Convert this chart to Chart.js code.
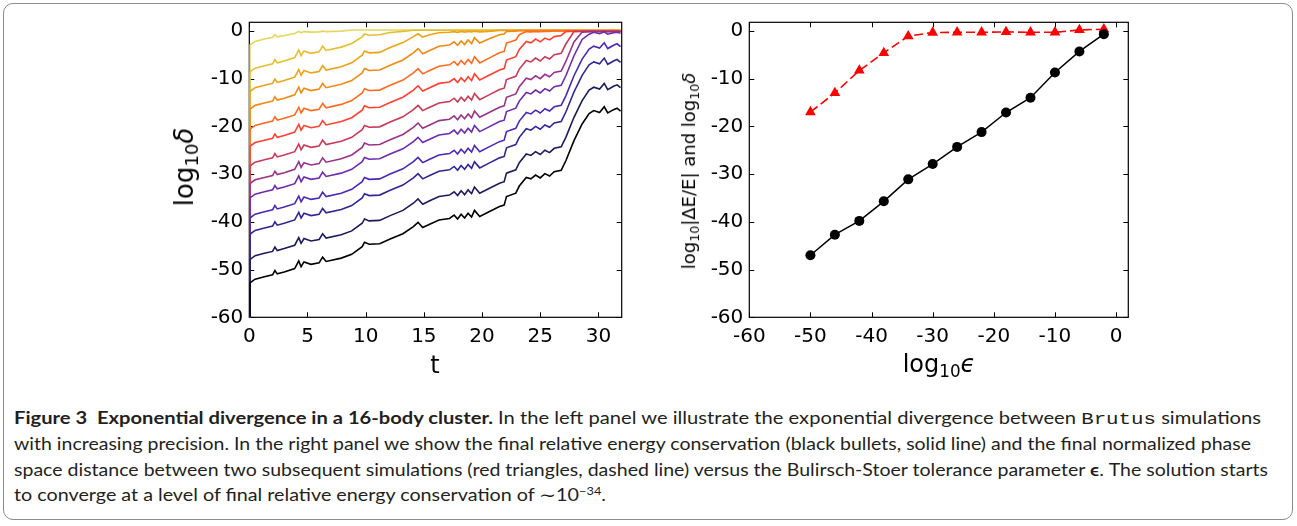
<!DOCTYPE html>
<html><head><meta charset="utf-8">
<script src="https://cdn.jsdelivr.net/npm/chart.js@4"></script>
<style>
html,body{margin:0;padding:0;background:#fff;}
#wrap{position:relative;width:1297px;height:526px;overflow:hidden;background:#fff;}
#box{position:absolute;left:3px;top:3px;width:1288px;height:515px;border:1px solid #8c8c8c;border-radius:10px;}
canvas{position:absolute;top:0;}
.lbl{position:absolute;font-family:"DejaVu Sans";color:#000;white-space:nowrap;line-height:1;transform:translate(-50%,-50%);}
.rot{transform:translate(-50%,-50%) rotate(-90deg);}
.sub{font-size:70%;position:relative;top:0.28em;}
.it{font-style:italic;}
.cap{position:absolute;left:14px;font-family:Lato;font-size:16.5px;color:#231f20;white-space:nowrap;transform-origin:0 50%;line-height:20px;}
.mono{font-family:"Liberation Mono";font-size:17px;}
sup{font-size:65%;vertical-align:0;position:relative;top:-0.6em;}
</style></head>
<body>
<div id="wrap">
<div id="box"></div>
<canvas id="left" width="500" height="400" style="left:150px"></canvas>
<canvas id="right" width="500" height="400" style="left:650px"></canvas>
<div class="lbl rot" style="left:184px;top:167px;font-size:26px">log<span class="sub">10</span><span class="it">δ</span></div>
<div class="lbl" style="left:435px;top:365px;font-size:24px">t</div>
<div class="lbl rot" style="left:689px;top:171px;font-size:18px">log<span class="sub">10</span>|ΔE/E| and log<span class="sub">10</span><span class="it">δ</span></div>
<div class="lbl" style="left:939px;top:364px;font-size:24px">log<span class="sub">10</span><span class="it">ϵ</span></div>
<div class="cap" data-w="1247" style="top:408px"><b>Figure 3&nbsp;&nbsp;Exponential divergence in a 16-body cluster.</b> In the left panel we illustrate the exponential divergence between <span class="mono">Brutus</span> simulations</div>
<div class="cap" data-w="1237" style="top:434px">with increasing precision. In the right panel we show the final relative energy conservation (black bullets, solid line) and the final normalized phase</div>
<div class="cap" data-w="1254" style="top:460px">space distance between two subsequent simulations (red triangles, dashed line) versus the Bulirsch-Stoer tolerance parameter <b>ϵ</b>. The solution starts</div>
<div class="cap" data-w="592" style="top:485px">to converge at a level of final relative energy conservation of ∼10<sup>−34</sup>.</div>
</div>
<script>
// ---------- Left panel: log10(delta) vs t ----------
const tTimes = [0,0.05,0.5,1.3,2.0,2.2,2.4,3.0,3.9,4.25,4.45,4.7,5.3,6.0,6.3,6.6,7.9,8.8,9.7,9.9,10.3,11.2,12.1,13.2,14.1,14.5,14.9,15.5,16.3,17.2,17.6,17.9,18.2,18.5,18.8,19.1,19.35,19.8,20.6,21.5,21.9,22.1,22.9,23.2,23.8,24.2,24.6,25.0,25.4,25.8,26.2,26.8,27.2,27.9,28.6,29.2,29.6,30.1,30.5,30.8,31.3,31.6,31.9];

const run01 = [-60,-2.95,-2.2,-1.7,-1.4,-0.8,-1.25,-0.95,-0.55,-0.1,-0.4,-0.15,-0.25,-0.2,-0.05,-0.15,-0.05,
 0.2,0.2,0.2,0.2,0.2,0.2,0.2,0.2,0.2,0.2, 0.2,0.2,0.2,0.2,0.2,0.2,0.2,0.2,0.2,0.2, 0.2,0.2,0.2,0.2,0.2,0.2,0.2,0.2,0.2,0.2, 0.2,0.2,0.2,0.2,0.2,0.2,0.2,0.2,0.2,0.2, 0.2,0.2,0.2,0.2,0.2,0.2];
const run02 = [-60,-8.6,-7.8,-7.3,-6.9,-6.0,-6.7,-6.3,-5.6,-4.0,-5.2,-4.2,-4.7,-4.4,-3.2,-4.1,-3.4,-2.65,-1.25,-0.65,-0.9,-0.8,-0.35,-0.1,
 0.15,0.15,0.15,0.15,0.15,0.15,0.15,0.15,0.15,0.15, 0.15,0.15,0.15,0.15,0.15,0.15,0.15,0.15,0.15,0.15, 0.15,0.15,0.15,0.15,0.15,0.15,0.15,0.15,0.15,0.15, 0.15,0.15,0.15,0.15,0.15,0.15,0.15,0.15,0.15];
const run03 = [-60,-12.7,-11.9,-11.4,-11.0,-10.1,-10.8,-10.4,-9.7,-8.1,-9.3,-8.3,-8.8,-8.5,-7.3,-8.2,-7.5,-6.7,-5.1,-4.2,-4.6,-4.5,-3.5,-2.45,-1.2,-0.6,-1.3,-0.8,-0.4,-0.3,-0.15,-0.3,-0.1,-0.25,-0.1,-0.2,-0.05,-0.2,-0.1,
 0.1,0.1,0.1,0.1,0.1,0.1,0.1,0.1,0.1,0.1, 0.1,0.1,0.1,0.1,0.1,0.1,0.1,0.1,0.1,0.1, 0.1,0.1,0.1,0.1];
const run04 = [-60,-16.4,-15.6,-15.1,-14.7,-13.8,-14.5,-14.1,-13.4,-11.8,-13.0,-12.0,-12.5,-12.2,-11.0,-11.9,-11.2,-10.4,-8.8,-7.9,-8.3,-8.2,-7.2,-6.1,-4.6,-3.7,-4.8,-4.1,-3.2,-2.95,-2.3,-3.0,-2.1,-2.85,-1.9,-2.65,-1.4,-2.55,-1.65,-0.8,-0.65,-0.1,-0.05,
 0.05,0.05,0.05,0.05,0.05,0.05,0.05,0.05,0.05,0.05, 0.05,0.05,0.05,0.05,0.05,0.05,0.05,0.05,0.05,0.05];
const run05 = [-60,-20.6,-19.8,-19.3,-18.9,-18.0,-18.7,-18.3,-17.6,-16.0,-17.2,-16.2,-16.7,-16.4,-15.2,-16.1,-15.4,-14.6,-13.0,-12.1,-12.5,-12.4,-11.4,-10.3,-8.8,-7.9,-9.0,-8.3,-7.4,-7.1,-6.4,-7.2,-6.2,-7.0,-6.0,-6.8,-5.4,-6.7,-5.7,-4.6,-4.3,-2.55,-1.9,-0.8,-0.15,-0.2,-0.1,-0.15,-0.1,-0.1,
 0,0,0,0,0,0,0,0,0,0,0,0,0];
const run06 = [-60,-24.2,-23.4,-22.9,-22.5,-21.6,-22.3,-21.9,-21.2,-19.6,-20.8,-19.8,-20.3,-20.0,-18.8,-19.7,-19.0,-18.2,-16.6,-15.7,-16.1,-16.0,-15.0,-13.9,-12.4,-11.5,-12.6,-11.9,-11.0,-10.7,-10.0,-10.8,-9.8,-10.6,-9.6,-10.4,-9.0,-10.3,-9.3,-8.2,-7.9,-6.1,-5.4,-3.9,-2.2,-2.5,-1.7,-2.3,-1.5,-1.9,-1.2,-0.95,-0.15,
 -0.05,-0.05,-0.05,-0.05,-0.05,-0.05,-0.05,-0.05,-0.05,-0.05];
const run07 = [-60,-28.3,-27.5,-27.0,-26.6,-25.7,-26.4,-26.0,-25.3,-23.7,-24.9,-23.9,-24.4,-24.1,-22.9,-23.8,-23.1,-22.3,-20.7,-19.8,-20.2,-20.1,-19.1,-18.0,-16.5,-15.6,-16.7,-16.0,-15.1,-14.8,-14.1,-14.9,-13.9,-14.7,-13.7,-14.5,-13.1,-14.4,-13.4,-12.3,-12.0,-10.2,-9.5,-8.0,-6.2,-6.5,-5.7,-6.3,-5.4,-5.9,-5.0,-4.7,-2.75,-0.15,
 -0.1,-0.1,-0.1,-0.1,-0.1,-0.1,-0.1,-0.1,-0.1];
const run08 = [-60,-32.0,-31.2,-30.7,-30.3,-29.4,-30.1,-29.7,-29.0,-27.4,-28.6,-27.6,-28.1,-27.8,-26.6,-27.5,-26.8,-26.0,-24.4,-23.5,-23.9,-23.8,-22.8,-21.7,-20.2,-19.3,-20.4,-19.7,-18.8,-18.5,-17.8,-18.6,-17.6,-18.4,-17.4,-18.2,-16.8,-18.1,-17.1,-16.0,-15.7,-13.9,-13.2,-11.7,-9.9,-10.2,-9.4,-10.0,-9.1,-9.6,-8.7,-8.4,-6.4,-2.3,-0.25,
 -0.15,-0.15,-0.15,-0.15,-0.15,-0.15,-0.15,-0.15];
const run09 = [-60,-35.0,-34.2,-33.7,-33.3,-32.4,-33.1,-32.7,-32.0,-30.4,-31.6,-30.6,-31.1,-30.8,-29.6,-30.5,-29.8,-29.0,-27.4,-26.5,-26.9,-26.8,-25.8,-24.7,-23.2,-22.3,-23.4,-22.7,-21.8,-21.5,-20.8,-21.6,-20.6,-21.4,-20.4,-21.2,-19.8,-21.1,-20.1,-19.0,-18.7,-16.9,-16.2,-14.7,-12.9,-13.2,-12.4,-13.0,-12.1,-12.6,-11.7,-11.4,-9.4,-5.2,-1.8,-0.7,-0.3,-0.6,-0.2,-0.7,-0.4,-0.3,-0.5];
const run10 = [-60,-39.2,-38.4,-37.9,-37.5,-36.6,-37.3,-36.9,-36.2,-34.6,-35.8,-34.8,-35.3,-35.0,-33.8,-34.7,-34.0,-33.2,-31.6,-30.7,-31.1,-31.0,-30.0,-28.9,-27.4,-26.5,-27.6,-26.9,-26.0,-25.7,-25.0,-25.8,-24.8,-25.6,-24.6,-25.4,-24.0,-25.3,-24.3,-23.2,-22.9,-21.1,-20.4,-18.9,-17.1,-17.4,-16.6,-17.2,-16.3,-16.8,-15.9,-15.6,-13.6,-9.4,-5.9,-3.8,-3.2,-3.6,-2.5,-3.7,-3.0,-2.7,-3.3];
const run11 = [-60,-42.6,-41.8,-41.3,-40.9,-40.0,-40.7,-40.3,-39.6,-38.0,-39.2,-38.2,-38.7,-38.4,-37.2,-38.1,-37.4,-36.6,-35.0,-34.1,-34.5,-34.4,-33.4,-32.3,-30.8,-29.9,-31.0,-30.3,-29.4,-29.1,-28.4,-29.2,-28.2,-29.0,-28.0,-28.8,-27.4,-28.7,-27.7,-26.6,-26.3,-24.5,-23.8,-22.3,-20.5,-20.8,-20.0,-20.6,-19.7,-20.2,-19.3,-19.0,-17.0,-12.8,-9.3,-7.1,-6.5,-6.9,-5.7,-7.0,-6.3,-6.0,-6.6];
const run12 = [-60,-47.9,-47.1,-46.6,-46.2,-45.3,-46.0,-45.6,-44.9,-43.3,-44.5,-43.5,-44.0,-43.7,-42.5,-43.4,-42.7,-41.9,-40.3,-39.4,-39.8,-39.7,-38.7,-37.6,-36.1,-35.2,-36.3,-35.6,-34.7,-34.4,-33.7,-34.5,-33.5,-34.3,-33.3,-34.1,-32.7,-34.0,-33.0,-31.9,-31.6,-29.8,-29.1,-27.6,-25.8,-26.1,-25.3,-25.9,-25.0,-25.5,-24.6,-24.3,-22.3,-18.1,-14.6,-12.4,-11.8,-12.2,-11.0,-12.3,-11.6,-11.3,-11.9];
const run13 = [-60,-52.8,-52.0,-51.5,-51.1,-50.2,-50.9,-50.5,-49.8,-48.2,-49.4,-48.4,-48.9,-48.6,-47.4,-48.3,-47.6,-46.8,-45.2,-44.3,-44.7,-44.6,-43.6,-42.5,-41.0,-40.1,-41.2,-40.5,-39.6,-39.3,-38.6,-39.4,-38.4,-39.2,-38.2,-39.0,-37.6,-38.9,-37.9,-36.8,-36.5,-34.7,-34.0,-32.5,-30.7,-31.0,-30.2,-30.8,-29.9,-30.4,-29.5,-29.2,-27.2,-23.0,-19.5,-17.3,-16.7,-17.1,-15.9,-17.2,-16.5,-16.2,-16.8];

const runColors = ['#e5d65c','#e6be2c','#eba416','#f08a10','#ff6a1e','#ff4030','#cc3858','#9a3288','#6e2ab0','#4a28b8','#2e2694','#1a1a5c','#000000'];
const leftXTicks = [0,5,10,15,20,25,30];
const leftYTicks = [0,-10,-20,-30,-40,-50,-60];

// ---------- Right panel ----------
const logEps = [-50,-46,-42,-38,-34,-30,-26,-22,-18,-14,-10,-6,-2];
const logEnergy = [-47.0,-42.7,-39.8,-35.7,-31.1,-27.9,-24.3,-21.2,-17.1,-14.0,-8.7,-4.3,-0.7];
const logDeltaFinal = [-17.0,-13.0,-8.3,-4.6,-1.1,-0.35,-0.3,-0.3,-0.2,-0.3,-0.3,0.2,0.35];
const rightXTicks = [-60,-50,-40,-30,-20,-10,0];
const rightYTicks = [0,-10,-20,-30,-40,-50,-60];

function pts(xs, ys){ return xs.map((x,i)=>({x:x, y:ys[i]})); }

const framePlugin = {
  id:'frame',
  beforeDatasetsDraw(chart){
    const ctx = chart.ctx, a = chart.chartArea, xs = chart.scales.x, ys = chart.scales.y;
    ctx.save();
    ctx.strokeStyle = '#000';
    ctx.lineWidth = 1.2;
    ctx.strokeRect(a.left, a.top, a.right - a.left, a.bottom - a.top);
    ctx.lineWidth = 1;
    const L = 5;
    ctx.beginPath();
    xs.ticks.forEach(t => {
      const p = Math.round(xs.getPixelForValue(t.value)) + 0.5;
      ctx.moveTo(p, a.bottom); ctx.lineTo(p, a.bottom - L);
      ctx.moveTo(p, a.top); ctx.lineTo(p, a.top + L);
    });
    ys.ticks.forEach(t => {
      const p = Math.round(ys.getPixelForValue(t.value)) + 0.5;
      ctx.moveTo(a.left, p); ctx.lineTo(a.left + L, p);
      ctx.moveTo(a.right, p); ctx.lineTo(a.right - L, p);
    });
    ctx.stroke();
    ctx.restore();
  }
};

function axis(min, max, tickVals, isX, size){
  return {
    type:'linear', min:min, max:max, position: isX ? 'bottom' : 'left',
    grid:{display:false, drawTicks:false}, border:{display:false},
    ticks:{color:'#000', font:{family:'DejaVu Sans', size:20}, padding: isX ? 7 : 6,
      autoSkip:false, maxRotation:0, minRotation:0, callback:(v)=>String(v)},
    afterBuildTicks:(s)=>{ s.ticks = tickVals.map(v=>({value:v})); },
    afterFit:(s)=>{ if(isX) s.height = size; else s.width = size; }
  };
}

const runs = [run01,run02,run03,run04,run05,run06,run07,run08,run09,run10,run11,run12,run13];
const leftSets = runs.map((r,i)=>({data:pts(tTimes,r), borderColor:runColors[i], borderWidth:1.6,
  pointRadius:0, tension:0, fill:false})).reverse();

new Chart(document.getElementById('left'), {
  type:'line',
  data:{datasets:leftSets},
  options:{
    responsive:false, animation:false, devicePixelRatio:1,
    layout:{padding:{left:0, right:28.3, top:22.3, bottom:0}},
    plugins:{legend:{display:false}, tooltip:{enabled:false}},
    scales:{ x: axis(0, 32, leftXTicks, true, 82.7), y: axis(-60, 1.8, leftYTicks, false, 99.3) }
  },
  plugins:[framePlugin]
});

new Chart(document.getElementById('right'), {
  type:'line',
  data:{datasets:[
    {data:pts(logEps,logEnergy), borderColor:'#000', borderWidth:1.5, pointStyle:'circle', pointRadius:5,
      pointBackgroundColor:'#000', pointBorderColor:'#000', pointBorderWidth:0, tension:0},
    {data:pts(logEps,logDeltaFinal), borderColor:'#ff0000', borderWidth:1.6, borderDash:[9,4], pointStyle:'triangle', pointRadius:6.2,
      pointBackgroundColor:'#ff0000', pointBorderColor:'#ff0000', pointBorderWidth:0, tension:0}
  ]},
  options:{
    responsive:false, animation:false, devicePixelRatio:1,
    layout:{padding:{left:0, right:21.7, top:22.3, bottom:0}},
    plugins:{legend:{display:false}, tooltip:{enabled:false}},
    scales:{ x: axis(-60, 2, rightXTicks, true, 82.7), y: axis(-60, 1.8, rightYTicks, false, 99.3) }
  },
  plugins:[framePlugin]
});

function fitCaps(){
  document.querySelectorAll('.cap').forEach(el=>{
    el.style.transform='none';
    const w = el.getBoundingClientRect().width;
    el.style.transform = 'scaleX(' + (Number(el.dataset.w)/w) + ')';
  });
}
fitCaps();
if (document.fonts && document.fonts.ready) document.fonts.ready.then(fitCaps);
</script>
</body></html>
